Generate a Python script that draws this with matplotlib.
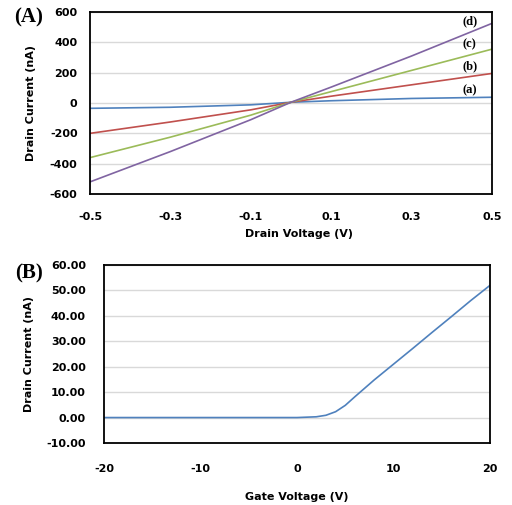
import numpy as np
import matplotlib
matplotlib.use('Agg')
import matplotlib.pyplot as plt

# Panel A: drain current vs drain voltage
vd = [-0.5, -0.3, -0.1, 0.0, 0.1, 0.3, 0.5]
curve_a = [-35, -28, -12, 5, 15, 30, 38]
curve_b = [-200, -125, -45, 5, 45, 120, 195]
curve_c = [-360, -225, -80, 5, 75, 215, 355]
curve_d = [-520, -320, -110, 5, 105, 310, 525]
curve_names = ['(a)', '(b)', '(c)', '(d)']
name_y = [85, 240, 385, 540]

# Panel B: drain current vs gate voltage
vg = [-20, -15, -10, -5, 0, 2, 3, 4, 5, 6, 8, 10, 12, 14, 16, 18, 20]
id_g = [0, 0, 0, 0, 0, 0.3, 0.9, 2.3, 4.8, 8.2, 14.8, 21.0, 27.2, 33.5, 39.7, 46.0, 52.0]

colors = ['#4F81BD', '#C0504D', '#9BBB59', '#8064A2']
grid_col = '#d9d9d9'

plt.rcParams['font.family'] = 'DejaVu Sans'
plt.rcParams['axes.unicode_minus'] = False
fig = plt.figure(figsize=(5.12, 5.05), dpi=100)

# ---------- (A) ----------
ax1 = fig.add_axes([0.1758, 0.6158, 0.785, 0.3604])
for ys, c in zip([curve_a, curve_b, curve_c, curve_d], colors):
    ax1.plot(vd, ys, color=c, lw=1.2)
for nm, y in zip(curve_names, name_y):
    ax1.text(0.445, y, nm, family='Liberation Serif', fontweight='bold', fontsize=9,
             ha='center', va='center')
ax1.set_xlim(-0.5, 0.5)
ax1.set_ylim(-600, 600)
ax1.set_xticks([-0.5, -0.3, -0.1, 0.1, 0.3, 0.5])
ax1.set_xticklabels(['-0.5', '-0.3', '-0.1', '0.1', '0.3', '0.5'])
ax1.set_yticks(np.arange(-600, 601, 200))
ax1.yaxis.grid(True, color=grid_col, lw=1)
ax1.set_axisbelow(True)
ax1.tick_params(length=0, labelsize=8)
ax1.tick_params(axis='y', pad=9)
ax1.tick_params(axis='x', pad=13)
for lab in ax1.get_xticklabels() + ax1.get_yticklabels():
    lab.set_fontweight('bold')
for s in ax1.spines.values():
    s.set_linewidth(1.3)
ax1.set_xlabel('Drain Voltage (V)', fontsize=8, fontweight='bold')
ax1.xaxis.set_label_coords(0.52, -0.192)
ax1.set_ylabel('Drain Current (nA)', fontsize=8, fontweight='bold')
ax1.yaxis.set_label_coords(-0.134, 0.5)

# ---------- (B) ----------
ax2 = fig.add_axes([0.2031, 0.1228, 0.754, 0.3525])
ax2.plot(vg, id_g, color=colors[0], lw=1.2)
ax2.set_xlim(-20, 20)
ax2.set_ylim(-10, 60)
ax2.set_xticks([-20, -10, 0, 10, 20])
ax2.set_yticks(np.arange(-10, 61, 10))
ax2.set_yticklabels(['%.2f' % v for v in np.arange(-10, 61, 10)])
ax2.yaxis.grid(True, color=grid_col, lw=1)
ax2.set_axisbelow(True)
ax2.tick_params(length=0, labelsize=8)
ax2.tick_params(axis='y', pad=13)
ax2.tick_params(axis='x', pad=15)
for lab in ax2.get_xticklabels() + ax2.get_yticklabels():
    lab.set_fontweight('bold')
for s in ax2.spines.values():
    s.set_linewidth(1.3)
ax2.set_xlabel('Gate Voltage (V)', fontsize=8, fontweight='bold')
ax2.xaxis.set_label_coords(0.5, -0.275)
ax2.set_ylabel('Drain Current (nA)', fontsize=8, fontweight='bold')
ax2.yaxis.set_label_coords(-0.181, 0.5)

fig.text(0.027, 0.966, '(A)', family='Liberation Serif', fontweight='bold', fontsize=15,
         ha='left', va='center')
fig.text(0.029, 0.459, '(B)', family='Liberation Serif', fontweight='bold', fontsize=15,
         ha='left', va='center')

fig.savefig('out.png', dpi=100)
